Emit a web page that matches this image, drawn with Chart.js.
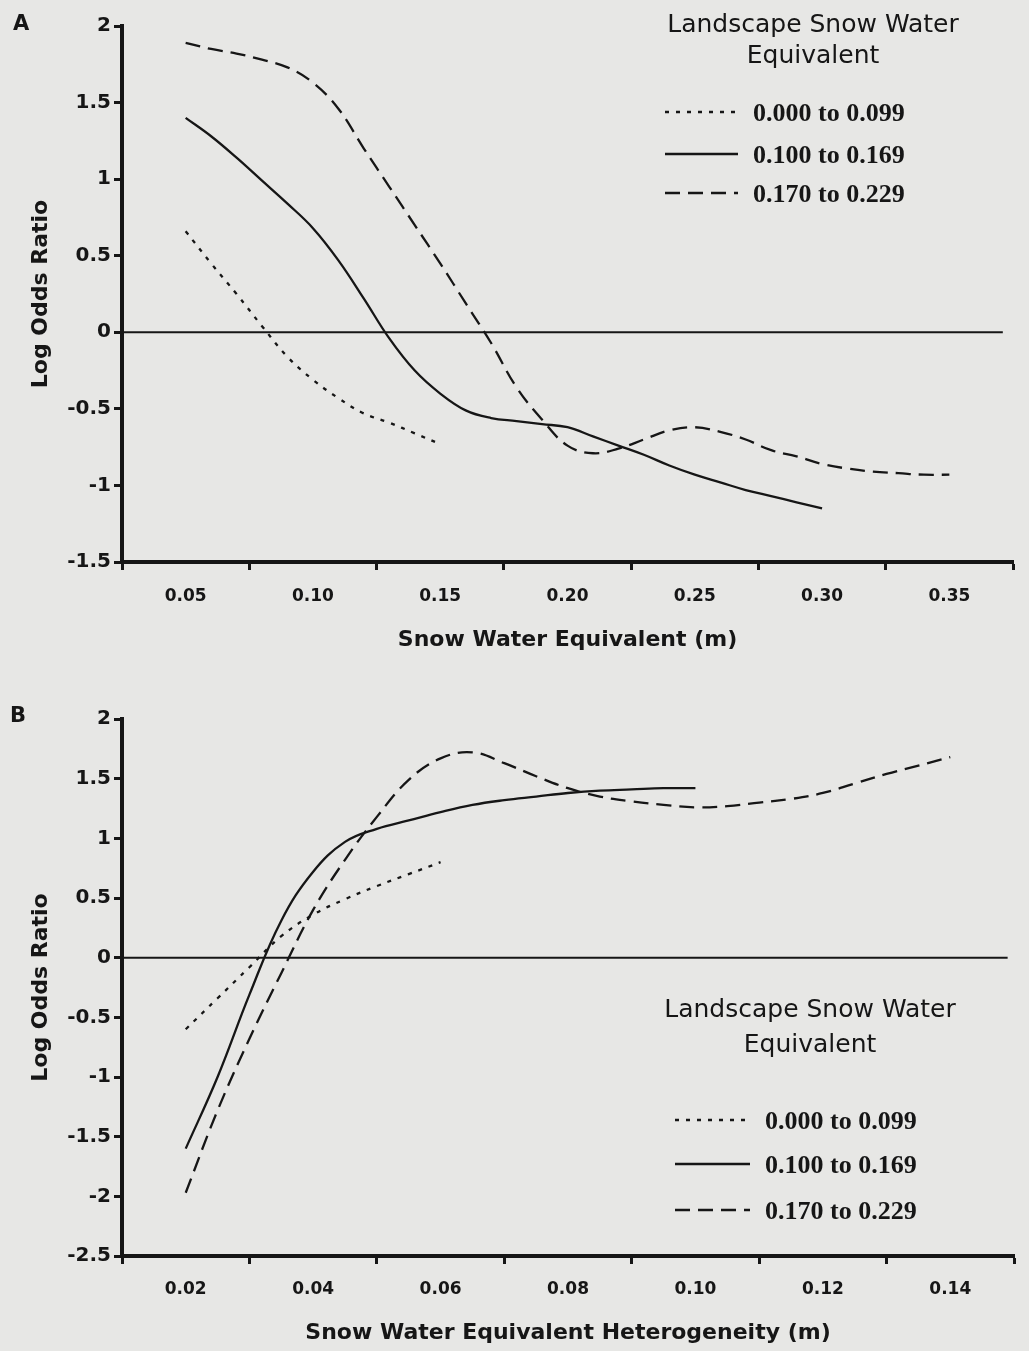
<!DOCTYPE html>
<html>
<head>
<meta charset="utf-8">
<script src="https://cdn.jsdelivr.net/npm/chart.js@4.4.1/dist/chart.umd.min.js"></script>
<style>
  html, body { margin: 0; padding: 0; background: #e7e7e5; }
  #wrap { position: relative; width: 1029px; height: 1351px; }
  .panel { position: absolute; left: 0; width: 1029px; }
  #panelA { top: 0; height: 680px; }
  #panelB { top: 680px; height: 671px; }
</style>
</head>
<body>
<div id="wrap">
  <div class="panel" id="panelA"><canvas id="chartA" width="1029" height="680"></canvas></div>
  <div class="panel" id="panelB"><canvas id="chartB" width="1029" height="671"></canvas></div>
</div>
<script>
// Legend classes (landscape snow water equivalent)
const classes = ['0.000 to 0.099', '0.100 to 0.169', '0.170 to 0.229'];

// Panel A - snow water equivalent (m)
const sweA = [0.05, 0.06, 0.07, 0.08, 0.09, 0.10, 0.11, 0.12, 0.13, 0.14, 0.15, 0.16,
              0.17, 0.18, 0.19, 0.20, 0.21, 0.22, 0.23, 0.24, 0.25, 0.26, 0.27, 0.28,
              0.29, 0.30, 0.31, 0.32, 0.33, 0.34, 0.35];
const lowA  = [0.66, 0.45, 0.25, 0.04, -0.16, -0.31, -0.43, -0.53, -0.59, -0.66, -0.73];
const midA  = [1.40, 1.28, 1.14, 0.99, 0.84, 0.68, 0.47, 0.22, -0.04, -0.25, -0.40, -0.51,
               -0.56, -0.58, -0.60, -0.62, -0.68, -0.74, -0.80, -0.87, -0.93, -0.98, -1.03,
               -1.07, -1.11, -1.15];
const highA = [1.89, 1.85, 1.82, 1.78, 1.73, 1.63, 1.46, 1.20, 0.95, 0.70, 0.45, 0.19,
               -0.07, -0.36, -0.57, -0.74, -0.79, -0.76, -0.70, -0.64, -0.62, -0.65, -0.70,
               -0.77, -0.81, -0.86, -0.89, -0.91, -0.92, -0.93, -0.93];
const zeroA = [0.025, 0.371];
const xLabelsA = [0.05, 0.10, 0.15, 0.20, 0.25, 0.30, 0.35];
const xMarksA = [0.025, 0.075, 0.125, 0.175, 0.225, 0.275, 0.325, 0.375];
const yTicksA = [2, 1.5, 1, 0.5, 0, -0.5, -1, -1.5];

// Panel B - snow water equivalent heterogeneity (m)
const hetB = [0.020, 0.025, 0.030, 0.035, 0.040, 0.045, 0.050, 0.055, 0.060, 0.065,
              0.070, 0.075, 0.080, 0.085, 0.090, 0.095, 0.100, 0.105, 0.110, 0.115,
              0.120, 0.125, 0.130, 0.135, 0.140];
const lowB  = [-0.60, -0.34, -0.08, 0.18, 0.36, 0.49, 0.60, 0.70, 0.80];
const midB  = [-1.60, -1.00, -0.31, 0.31, 0.72, 0.97, 1.08, 1.15, 1.22, 1.28, 1.32, 1.35,
               1.38, 1.40, 1.41, 1.42, 1.42];
const highB = [-1.97, -1.28, -0.68, -0.13, 0.40, 0.82, 1.18, 1.49, 1.67, 1.72, 1.63, 1.52,
               1.42, 1.35, 1.31, 1.28, 1.26, 1.27, 1.30, 1.33, 1.38, 1.46, 1.54, 1.61, 1.68];
const zeroB = [0.01, 0.149];
const xLabelsB = [0.02, 0.04, 0.06, 0.08, 0.10, 0.12, 0.14];
const xMarksB = [0.01, 0.03, 0.05, 0.07, 0.09, 0.11, 0.13, 0.15];
const yTicksB = [2, 1.5, 1, 0.5, 0, -0.5, -1, -1.5, -2, -2.5];

const INK = '#161616';
const dashes = [[4, 7], [], [15, 8]];

function pts(xs, ys) {
    return ys.map((y, i) => ({ x: xs[i], y: y }));
}

function series(xs, lists, zero) {
    let sets = lists.map((ys, i) => ({
        label: classes[i],
        data: pts(xs, ys),
        borderColor: INK,
        borderWidth: 2.3,
        borderDash: dashes[i],
        pointRadius: 0,
        tension: 0.4,
        fill: false
    }));
    // the horizontal zero reference line
    sets.push({
        label: 'zero',
        data: zero.map(x => ({ x: x, y: 0 })),
        borderColor: INK,
        borderWidth: 2,
        pointRadius: 0,
        fill: false
    });
    return sets;
}

// panel letter + legend drawn on the canvas
const annotate = {
    id: 'annotate',
    afterDraw(chart, args, o) {
        const ctx = chart.ctx;
        ctx.save();
        ctx.fillStyle = INK;
        ctx.strokeStyle = INK;
        ctx.textBaseline = 'alphabetic';

        ctx.font = 'bold 21px "DejaVu Sans"';
        ctx.textAlign = 'left';
        ctx.fillText(o.letter, o.letterX, o.letterY);

        ctx.font = '25px "DejaVu Sans"';
        ctx.textAlign = 'center';
        o.title.forEach((t, i) => ctx.fillText(t, o.titleX, o.titleY[i]));

        ctx.font = 'bold 26px "Liberation Serif"';
        ctx.textAlign = 'left';
        for (let i = 0; i < classes.length; i++) {
            const ds = chart.data.datasets[i];
            const y = o.itemY[i];
            ctx.lineWidth = ds.borderWidth;
            ctx.setLineDash(ds.borderDash);
            ctx.beginPath();
            ctx.moveTo(o.lineX[0], y);
            ctx.lineTo(o.lineX[1], y);
            ctx.stroke();
            ctx.setLineDash([]);
            ctx.fillText(ds.label, o.textX, y + 8.5);
        }
        ctx.restore();
    }
};

function makeChart(id, p) {
    return new Chart(document.getElementById(id), {
        type: 'line',
        data: { datasets: series(p.xs, p.lists, p.zero) },
        plugins: [annotate],
        options: {
            responsive: false,
            animation: false,
            devicePixelRatio: 1,
            layout: { padding: p.padding },
            plugins: {
                legend: { display: false },
                tooltip: { enabled: false },
                annotate: p.annotate
            },
            scales: {
                x: {
                    type: 'linear',
                    min: p.xMin,
                    max: p.xMax,
                    afterBuildTicks: s => {
                        s.ticks = p.xMarks.map(v => ({ value: v, mark: true }))
                            .concat(p.xLabels.map(v => ({ value: v })))
                            .sort((a, b) => a.value - b.value);
                    },
                    afterFit: s => { s.height = p.xHeight; },
                    ticks: {
                        autoSkip: false,
                        maxRotation: 0,
                        padding: p.xPad,
                        color: INK,
                        font: { family: 'DejaVu Sans', weight: 'bold', size: 17 },
                        callback: (v, i, t) => t[i].mark ? '' : v.toFixed(2)
                    },
                    grid: {
                        drawOnChartArea: false,
                        tickLength: 8,
                        tickWidth: 3,
                        tickColor: c => (c.tick && c.tick.mark) ? INK : 'rgba(0,0,0,0)'
                    },
                    border: { color: INK, width: 4 },
                    title: {
                        display: true,
                        text: p.xTitle,
                        color: INK,
                        font: { family: 'DejaVu Sans', weight: 'bold', size: 22 },
                        padding: { top: 0, bottom: p.xTitlePad }
                    }
                },
                y: {
                    type: 'linear',
                    min: p.yTicks[p.yTicks.length - 1],
                    max: p.yTicks[0],
                    afterBuildTicks: s => { s.ticks = p.yTicks.map(v => ({ value: v })); },
                    afterFit: s => { s.width = 122; },
                    ticks: {
                        padding: 3,
                        color: INK,
                        font: { family: 'DejaVu Sans', weight: 'bold', size: 20 },
                        callback: v => String(v)
                    },
                    grid: {
                        drawOnChartArea: false,
                        tickLength: 8,
                        tickWidth: 3,
                        tickColor: INK
                    },
                    border: { color: INK, width: 4 },
                    title: {
                        display: true,
                        text: 'Log Odds Ratio',
                        color: INK,
                        font: { family: 'DejaVu Sans', weight: 'bold', size: 22 },
                        padding: { top: 28, bottom: 0 }
                    }
                }
            }
        }
    });
}

makeChart('chartA', {
    xs: sweA, lists: [lowA, midA, highA], zero: zeroA,
    xMin: 0.025, xMax: 0.375, xMarks: xMarksA, xLabels: xLabelsA, yTicks: yTicksA,
    padding: { left: 0, right: 9, top: 26, bottom: 0 },
    xHeight: 118, xPad: 16, xTitlePad: 27,
    xTitle: 'Snow Water Equivalent (m)',
    annotate: {
        letter: 'A', letterX: 13, letterY: 30,
        title: ['Landscape Snow Water', 'Equivalent'], titleX: 813, titleY: [32, 63],
        lineX: [665, 738], textX: 753, itemY: [112, 154, 193]
    }
});

makeChart('chartB', {
    xs: hetB, lists: [lowB, midB, highB], zero: zeroB,
    xMin: 0.01, xMax: 0.15, xMarks: xMarksB, xLabels: xLabelsB, yTicks: yTicksB,
    padding: { left: 0, right: 14, top: 39, bottom: 0 },
    xHeight: 95, xPad: 15, xTitlePad: 5,
    xTitle: 'Snow Water Equivalent Heterogeneity (m)',
    annotate: {
        letter: 'B', letterX: 10, letterY: 42,
        title: ['Landscape Snow Water', 'Equivalent'], titleX: 810, titleY: [337, 372],
        lineX: [675, 750], textX: 765, itemY: [440, 484, 530]
    }
});
</script>
</body>
</html>
